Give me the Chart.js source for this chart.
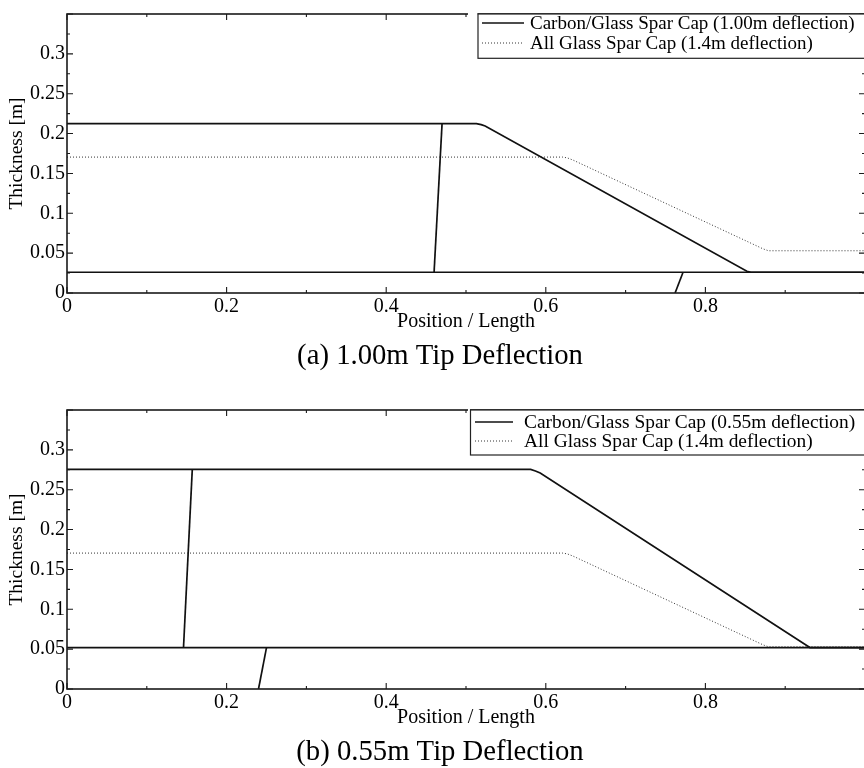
<!DOCTYPE html>
<html>
<head>
<meta charset="utf-8">
<script src="https://cdn.jsdelivr.net/npm/chart.js@4.4.0/dist/chart.umd.min.js"></script>
<style>
  html, body { margin: 0; padding: 0; background: #fff; overflow: hidden; width: 864px; height: 768px; }
  #wrap { position: relative; width: 864px; height: 768px; overflow: hidden; }
  canvas { position: absolute; left: 0; }
  #chartA { top: 0; }
  #chartB { top: 396px; }
</style>
</head>
<body>
<div id="wrap">
  <canvas id="chartA" width="868" height="396"></canvas>
  <canvas id="chartB" width="868" height="396"></canvas>
</div>
<script>
// Axis ticks and their labels
const xTicks = [0, 0.2, 0.4, 0.6, 0.8, 1.0];
const xTickLabels = ['0', '0.2', '0.4', '0.6', '0.8', ''];
const yTicks = [0, 0.05, 0.1, 0.15, 0.2, 0.25, 0.3, 0.35];
const yTickLabels = ['0', '0.05', '0.1', '0.15', '0.2', '0.25', '0.3', ''];

// All-glass spar cap thickness (same reference design in both panels)
const glassX = [0, 0.621, 0.627, 0.634, 0.872, 0.879, 1.0];
const glassY = [0.1705, 0.1705, 0.1695, 0.1668, 0.0555, 0.053, 0.053];

// (a) Carbon/glass spar cap, 1.00 m tip deflection
const aCapX = [0, 0.513, 0.519, 0.524, 0.852, 0.857, 1.0];
const aCapY = [0.2125, 0.2125, 0.2112, 0.2095, 0.0272, 0.026, 0.026];
const aBaseX = [0, 1.0];
const aBaseY = [0.026, 0.026];
const aDrop1X = [0.460, 0.470];
const aDrop1Y = [0.026, 0.2125];
const aDrop2X = [0.762, 0.772];
const aDrop2Y = [0, 0.026];

// (b) Carbon/glass spar cap, 0.55 m tip deflection
const bCapX = [0, 0.581, 0.587, 0.593, 0.927, 0.931, 1.0];
const bCapY = [0.2755, 0.2755, 0.2735, 0.271, 0.0545, 0.052, 0.052];
const bBaseX = [0, 1.0];
const bBaseY = [0.052, 0.052];
const bDrop1X = [0.146, 0.157];
const bDrop1Y = [0.052, 0.2755];
const bDrop2X = [0.240, 0.250];
const bDrop2Y = [0, 0.052];

const SERIF = "'Liberation Serif', 'Times New Roman', serif";
Chart.defaults.font.family = SERIF;
Chart.defaults.color = '#000';

const pts = (xs, ys) => xs.map((x, i) => ({ x: x, y: ys[i] }));

function solid(label, xs, ys) {
  return { label: label, data: pts(xs, ys), showLine: true, borderColor: '#111',
           borderWidth: 1.7, pointRadius: 0, fill: false, tension: 0 };
}
function dotted(label, xs, ys) {
  return { label: label, data: pts(xs, ys), showLine: true, borderColor: '#333',
           borderWidth: 1, borderDash: [1, 2], pointRadius: 0, fill: false, tension: 0 };
}

// Closed frame with inward major/minor ticks on all four sides
const framePlugin = {
  id: 'frame',
  afterDatasetsDraw(chart) {
    const { ctx, chartArea: a, scales } = chart;
    const xs = scales.x, ys = scales.y;
    ctx.save();
    ctx.strokeStyle = '#1a1a1a';
    ctx.lineWidth = 1.6;
    ctx.strokeRect(a.left, a.top, a.right - a.left, a.bottom - a.top);
    ctx.lineWidth = 1.1;
    ctx.beginPath();
    for (let i = 0; i <= 10; i++) {
      const px = xs.getPixelForValue(i / 10);
      const len = i % 2 === 0 ? 6 : 3;
      ctx.moveTo(px, a.bottom); ctx.lineTo(px, a.bottom - len);
      ctx.moveTo(px, a.top); ctx.lineTo(px, a.top + len);
    }
    for (let i = 0; i <= 14; i++) {
      const py = ys.getPixelForValue(i * 0.025);
      const len = i % 2 === 0 ? 6 : 3;
      ctx.moveTo(a.left, py); ctx.lineTo(a.left + len, py);
      ctx.moveTo(a.right, py); ctx.lineTo(a.right - len, py);
    }
    ctx.stroke();
    ctx.restore();
  }
};

// Boxed legend sitting in the top-right corner of the plot
const boxLegend = {
  id: 'boxLegend',
  afterDraw(chart, args, o) {
    const { ctx, chartArea: a } = chart;
    const ds = chart.data.datasets;
    ctx.save();
    ctx.fillStyle = '#fff';
    ctx.fillRect(o.coverFrom, a.top - 1.5, o.left - o.coverFrom, 3);
    ctx.fillRect(o.left, a.top, chart.width - o.left, o.bottom - a.top);
    ctx.strokeStyle = '#222';
    ctx.lineWidth = 1.2;
    ctx.strokeRect(o.left + 0.5, a.top, chart.width, o.bottom - a.top);
    ctx.font = o.fontSize + 'px ' + SERIF;
    ctx.textBaseline = 'middle';
    ctx.textAlign = 'left';
    o.items.forEach((idx, k) => {
      const d = ds[idx];
      const y = a.top + o.rows[k];
      ctx.beginPath();
      ctx.strokeStyle = d.borderColor;
      ctx.lineWidth = d.borderWidth;
      ctx.setLineDash(d.borderDash || []);
      ctx.moveTo(o.sx0, y); ctx.lineTo(o.sx1, y);
      ctx.stroke();
      ctx.setLineDash([]);
      ctx.fillStyle = '#000';
      ctx.fillText(d.label, o.tx, y + 1);
    });
    ctx.restore();
  }
};

// Sub-figure caption under the axis title
const captionPlugin = {
  id: 'caption',
  afterDraw(chart, args, o) {
    const { ctx } = chart;
    ctx.save();
    ctx.font = o.size + 'px ' + SERIF;
    ctx.fillStyle = '#000';
    ctx.textAlign = 'center';
    ctx.textBaseline = 'middle';
    ctx.fillText(o.text, o.x, o.y);
    ctx.restore();
  }
};

function makeChart(id, datasets, caption, legendOpts) {
  return new Chart(document.getElementById(id), {
    type: 'scatter',
    data: { datasets: datasets },
    options: {
      responsive: false,
      animation: false,
      devicePixelRatio: 1,
      layout: { padding: { top: 13, right: 3, bottom: 62.6, left: 0 } },
      scales: {
        x: {
          type: 'linear', min: 0, max: 1,
          afterBuildTicks: s => { s.ticks = xTicks.map(v => ({ value: v })); },
          afterFit: s => { s.height = 40.4; },
          ticks: { callback: (v, i) => xTickLabels[i], font: { size: 20 }, color: '#000', padding: 2, maxRotation: 0, autoSkip: false },
          grid: { display: false, drawTicks: false },
          border: { display: false },
          title: { display: true, text: 'Position / Length', font: { size: 20 }, color: '#000', padding: { top: 0, bottom: 0 } }
        },
        y: {
          type: 'linear', min: 0, max: 0.35,
          afterBuildTicks: s => { s.ticks = yTicks.map(v => ({ value: v })); },
          afterFit: s => { s.width = 67; },
          ticks: { callback: (v, i) => yTickLabels[i], font: { size: 20 }, color: '#000', padding: 2, autoSkip: false },
          grid: { display: false, drawTicks: false },
          border: { display: false },
          title: { display: true, text: 'Thickness [m]', font: { size: 19.5 }, color: '#000', padding: { top: 5, bottom: 0 } }
        }
      },
      plugins: {
        legend: { display: false },
        tooltip: { enabled: false },
        title: { display: false },
        caption: { text: caption, x: 440, y: 356, size: 28.7 },
        boxLegend: legendOpts
      }
    },
    plugins: [framePlugin, boxLegend, captionPlugin]
  });
}

makeChart('chartA', [
  solid('Carbon/Glass Spar Cap (1.00m deflection)', aCapX, aCapY),
  dotted('All Glass Spar Cap (1.4m deflection)', glassX, glassY),
  solid('', aBaseX, aBaseY),
  solid('', aDrop1X, aDrop1Y),
  solid('', aDrop2X, aDrop2Y)
], '(a) 1.00m Tip Deflection', {
  items: [0, 1], left: 477.5, bottom: 58.3, coverFrom: 468,
  rows: [9, 29], sx0: 482, sx1: 524, tx: 530, fontSize: 19
});

makeChart('chartB', [
  solid('Carbon/Glass Spar Cap (0.55m deflection)', bCapX, bCapY),
  dotted('All Glass Spar Cap (1.4m deflection)', glassX, glassY),
  solid('', bBaseX, bBaseY),
  solid('', bDrop1X, bDrop1Y),
  solid('', bDrop2X, bDrop2Y)
], '(b) 0.55m Tip Deflection', {
  items: [0, 1], left: 470, bottom: 59, coverFrom: 468,
  rows: [12, 31], sx0: 475, sx1: 513, tx: 524, fontSize: 19.4
});
</script>
</body>
</html>
